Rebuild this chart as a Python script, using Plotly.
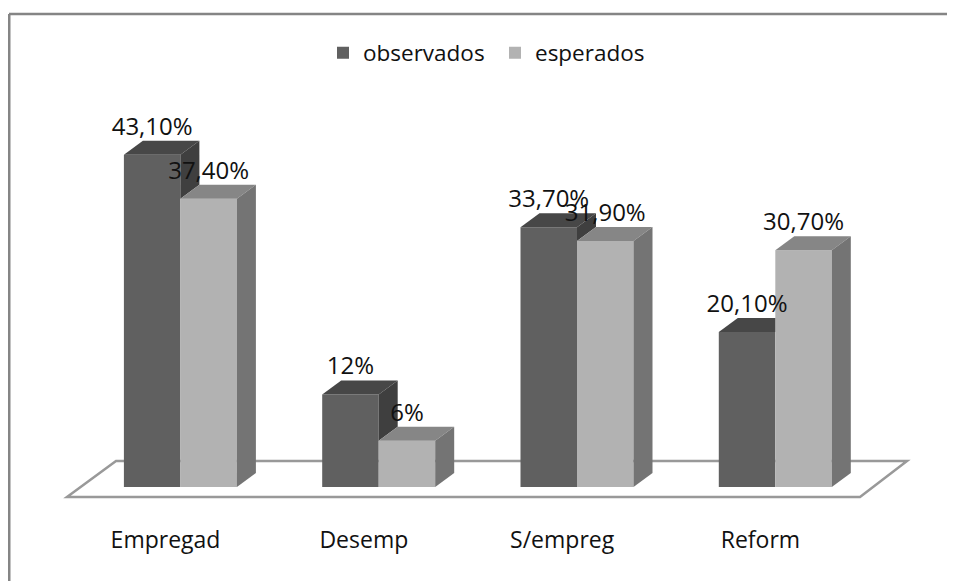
import plotly.graph_objects as go

categories = ["Empregad", "Desemp", "S/empreg", "Reform"]
observados = [43.1, 12, 33.7, 20.1]
esperados = [37.4, 6, 31.9, 30.7]
observados_labels = ["43,10%", "12%", "33,70%", "20,10%"]
esperados_labels = ["37,40%", "6%", "31,90%", "30,70%"]

DARK_FRONT, DARK_TOP, DARK_SIDE = "#606060", "#474747", "#3f3f3f"
LIGHT_FRONT, LIGHT_TOP, LIGHT_SIDE = "#b2b2b2", "#868686", "#747474"
LINE = "#999999"
FRAME = "#858585"
FONT = "Open Sans"

# the page body has an 8px margin, the figure starts there
PAGE = 8
WIDTH = 955
PLOT_W = 955 - PAGE
HEIGHT = 581 - PAGE

# pixel scale of the picture, so the axes line up with the reference
PX_X = 198.3
PX_Y = 7.71
X0 = 180.4
Y0 = 487
PLOT_BOTTOM = 522

BAR_W = 56.5 / PX_X
DX = 19 / PX_X
DY = 14 / PX_Y
LABEL_UP = 26 / PX_Y
PLOT_H = PLOT_BOTTOM - PAGE


def face(fig, xs, ys, color):
    fig.add_trace(go.Scatter(x=xs + xs[:1], y=ys + ys[:1], mode="lines", fill="toself", fillcolor=color,
                             line=dict(width=0, color=color), showlegend=False, hoverinfo="skip"))


fig = go.Figure()
idx = list(range(len(categories)))
fig.add_trace(go.Bar(x=idx, y=observados, name="observados", width=BAR_W, offset=-BAR_W, marker=dict(color=DARK_FRONT, line=dict(width=0))))
fig.add_trace(go.Bar(x=idx, y=esperados, name="esperados", width=BAR_W, offset=0, marker=dict(color=LIGHT_FRONT, line=dict(width=0))))

for i, (o, e) in enumerate(zip(observados, esperados)):
    # the taller light bar hides part of the dark bar's top and all of its side
    right = i + DX if o > e else i
    face(fig, [i - BAR_W, i - BAR_W + DX, right, i], [o, o + DY, o + DY, o], DARK_TOP)
    if o > e:
        face(fig, [i, i + DX, i + DX, i], [o, o + DY, e + DY, e], DARK_SIDE)
    face(fig, [i, i + DX, i + BAR_W + DX, i + BAR_W], [e, e + DY, e + DY, e], LIGHT_TOP)
    face(fig, [i + BAR_W, i + BAR_W + DX, i + BAR_W + DX, i + BAR_W], [e, e + DY, DY, 0], LIGHT_SIDE)

fig.add_trace(go.Scatter(x=[i - BAR_W / 2 for i in idx], y=[v + LABEL_UP for v in observados], mode="text", text=observados_labels,
                         textfont=dict(size=24, color="#111111", family=FONT), showlegend=False, hoverinfo="skip"))
fig.add_trace(go.Scatter(x=[i + BAR_W / 2 for i in idx], y=[v + LABEL_UP for v in esperados], mode="text", text=esperados_labels,
                         textfont=dict(size=24, color="#111111", family=FONT), showlegend=False, hoverinfo="skip"))

# floor of the 3D box, behind the bars
floor_x = [(px - X0) / PX_X for px in (67, 860, 907, 116)]
floor_y = [(Y0 - py) / PX_Y for py in (497, 497, 461, 461)]
floor_path = "M" + " L".join(f"{a},{b}" for a, b in zip(floor_x, floor_y)) + " Z"
fig.add_shape(type="path", path=floor_path, xref="x", yref="y", layer="below", line=dict(color=LINE, width=2.5), fillcolor="white")

# picture frame, only top and left show
top = (PLOT_H - (14 - PAGE)) / PLOT_H
fig.add_shape(type="line", xref="paper", yref="paper", x0=1 / PLOT_W, x1=WIDTH / PLOT_W, y0=top, y1=top, line=dict(color=FRAME, width=2.5))
fig.add_shape(type="line", xref="paper", yref="paper", x0=1 / PLOT_W, x1=1 / PLOT_W, y0=-(581 - PLOT_BOTTOM) / PLOT_H, y1=top,
              line=dict(color=FRAME, width=3))

fig.update_layout(
    width=WIDTH, height=HEIGHT, margin=dict(l=0, r=WIDTH - PLOT_W, t=0, b=HEIGHT - PLOT_H, autoexpand=False),
    paper_bgcolor="white", plot_bgcolor="white", barmode="overlay",
    font=dict(family=FONT, size=23, color="#111111"),
    legend=dict(orientation="h", x=(323 - PAGE) / PLOT_W, y=(PLOT_H - (53 - PAGE)) / PLOT_H, xanchor="left", yanchor="middle",
                font=dict(size=22.5), bgcolor="rgba(0,0,0,0)", entrywidth=127, entrywidthmode="pixels"),
    xaxis=dict(range=[(PAGE - X0) / PX_X, (955 - X0) / PX_X], tickvals=[i - 0.075 for i in idx], ticktext=categories,
               showgrid=False, zeroline=False, showline=False, ticks="", tickfont=dict(size=23), ticklabelstandoff=2, fixedrange=True),
    yaxis=dict(range=[(Y0 - PLOT_BOTTOM) / PX_Y, (Y0 - PAGE) / PX_Y], visible=False, fixedrange=True),
    showlegend=True,
)

fig.write_html("out.html")
